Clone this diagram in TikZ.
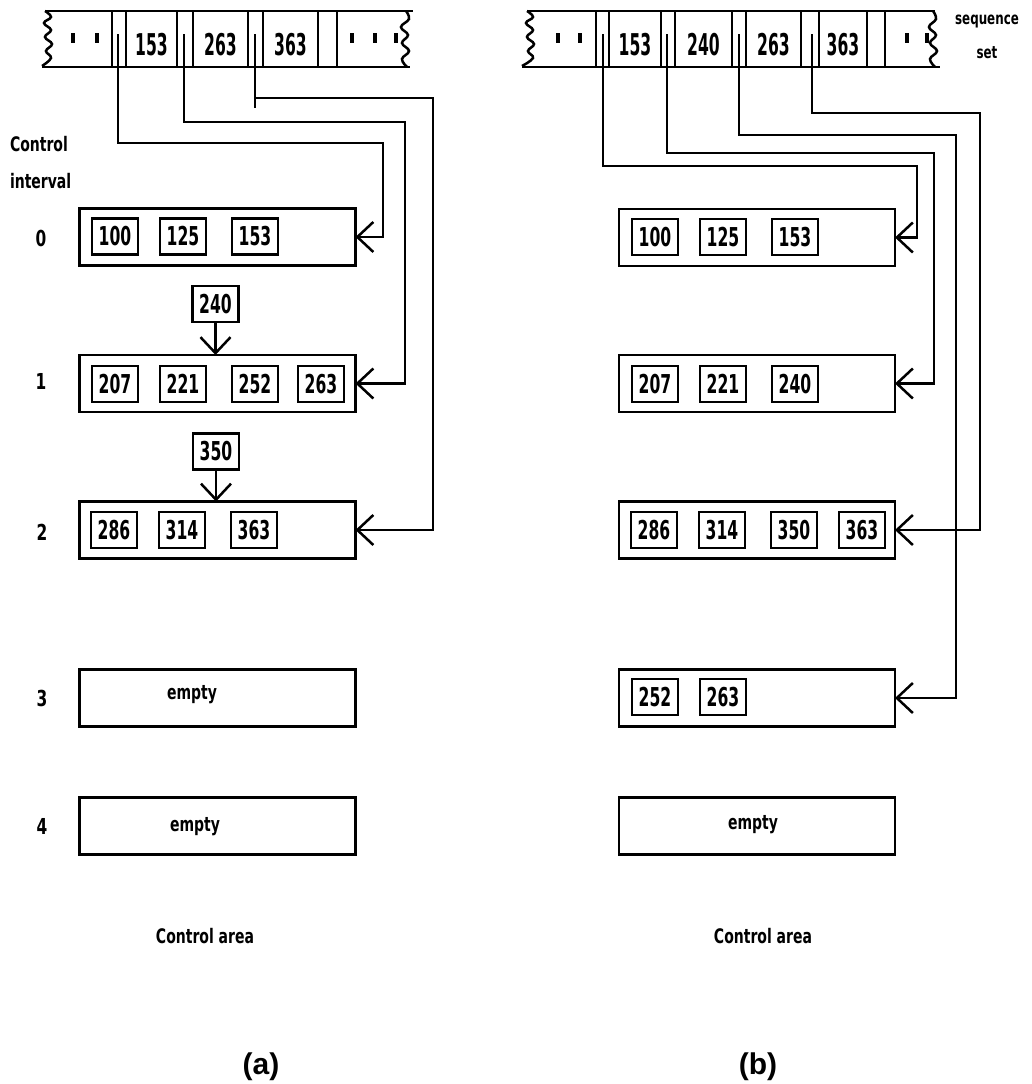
\documentclass[tikz,border=0pt]{standalone}
\usepackage{fontspec}
\setmainfont{DejaVu Sans}
\newfontfamily\txtfont[FakeStretch=0.7, UprightFont={* Bold}]{DejaVu Sans}
\newfontfamily\digfont[FakeStretch=0.6, UprightFont={* Bold}]{DejaVu Sans}
\newfontfamily\seqfont[FakeStretch=0.52, UprightFont={* Bold}]{DejaVu Sans}
\newfontfamily\capfont{Liberation Sans}
\usetikzlibrary{arrows.meta}
\begin{document}
\begin{tikzpicture}[x=1pt,y=-1pt,
  line width=2.5pt,
  every node/.style={inner sep=0pt, outer sep=0pt},
  cibox/.style={draw, minimum width=276pt, minimum height=57pt},
  keybox/.style={draw, line width=2.2pt, minimum width=46pt, minimum height=36pt, font=\digfont\fontsize{26}{26}\selectfont},
  seqnum/.style={font=\seqfont\fontsize{30}{30}\selectfont},
  lbl/.style={font=\txtfont\fontsize{20}{20}\selectfont},
  cinum/.style={font=\txtfont\fontsize{22}{22}\selectfont},
  ptr/.style={-{Straight Barb[length=16pt,width=30pt]}},
  tickmark/.style={line width=3.5pt},
]
\useasboundingbox (0,0) rectangle (1032,1084);

% ---------------- (a) sequence set ----------------
\draw (45,11) -- (413,11);
\draw (42,67) -- (410,67);
\draw plot[smooth, tension=0.7] coordinates {(45,11) (51,17) (44,23) (51,30) (45,37) (52,44) (46,51) (51,58) (42,66)};
\draw plot[smooth, tension=0.7] coordinates {(406,11) (409,19) (401,27) (408,35) (402,43) (409,51) (402,59) (407,67)};
\foreach \x in {112,126,177,193,248,263,318,337} \draw (\x,11) -- (\x,67);
\foreach \x in {73,97,352,375,396} \draw[tickmark] (\x,33) -- (\x,43);
\node[seqnum] (sa153) at (151.5,45) {153};
\node[seqnum] (sa263) at (220.5,45) {263};
\node[seqnum] (sa363) at (290.5,45) {363};
\coordinate (pa1) at (118,34);
\coordinate (pa2) at (184,34);
\coordinate (pa3) at (255,34);

% ---------------- (a) labels ----------------
\node[lbl, anchor=west] (lctl) at (10,144) {Control};
\node[lbl, anchor=west] (lint) at (10,181) {interval};
\node[cinum] (n0) at (41,238) {0};
\node[cinum] (n1) at (41,381) {1};
\node[cinum] (n2) at (42,532) {2};
\node[cinum] (n3) at (42,698) {3};
\node[cinum] (n4) at (42,826) {4};

% ---------------- (a) control intervals ----------------
\node[cibox] (a0) at (217.5,237) {};
\node[cibox] (a1) at (217.5,383.5) {};
\node[cibox] (a2) at (217.5,530) {};
\node[cibox] (a3) at (217.5,698) {};
\node[cibox] (a4) at (217.5,826) {};

\node[keybox] (a0k1) at (115,236.5) {100};
\node[keybox] (a0k2) at (183,236.5) {125};
\node[keybox] (a0k3) at (255,236.5) {153};

\node[keybox] (a1k1) at (115,384) {207};
\node[keybox] (a1k2) at (183,384) {221};
\node[keybox] (a1k3) at (255,384) {252};
\node[keybox] (a1k4) at (321,384) {263};

\node[keybox] (a2k1) at (114,530) {286};
\node[keybox] (a2k2) at (182,530) {314};
\node[keybox] (a2k3) at (254,530) {363};

\node[lbl] (a3e) at (192,695) {empty};
\node[lbl] (a4e) at (195,827) {empty};

\node[keybox] (ins240) at (215.5,304) {240};
\node[keybox] (ins350) at (216,451.5) {350};
\draw[ptr] (ins240.south) -- (ins240.south |- a1.north);
\draw[ptr] (ins350.south) -- (ins350.south |- a2.north);

\draw[ptr] (pa1) |- (383,143) |- (a0.east);
\draw[ptr] (pa2) |- (405,122) |- (a1.east);
\draw[ptr] (pa3) |- (433,98) |- (a2.east);
\draw (255,98) -- (255,108);

\node[lbl] (areaa) at (205,936) {Control area};
\node[font=\capfont\bfseries\fontsize{30}{30}\selectfont] (capa) at (261,1067) {(a)};

% ---------------- (b) sequence set ----------------
\draw (527,11) -- (935,11);
\draw (522,67) -- (940,67);
\draw plot[smooth, tension=0.7] coordinates {(527,11) (533,17) (526,23) (533,30) (527,37) (534,44) (528,51) (533,58) (522,66)};
\draw plot[smooth, tension=0.7] coordinates {(933,11) (936,19) (929,27) (936,35) (930,43) (937,51) (930,59) (935,67)};
\foreach \x in {596,609,661,675,732,746,801,819,867,885} \draw (\x,11) -- (\x,67);
\foreach \x in {558,580,907,927} \draw[tickmark] (\x,33) -- (\x,43);
\node[seqnum] (sb153) at (635,45) {153};
\node[seqnum] (sb240) at (703.5,45) {240};
\node[seqnum] (sb263) at (773.5,45) {263};
\node[seqnum] (sb363) at (843,45) {363};
\coordinate (pb1) at (603,34);
\coordinate (pb2) at (667,34);
\coordinate (pb3) at (739,34);
\coordinate (pb4) at (812,34);
\node[font=\txtfont\fontsize{17}{17}\selectfont] (seqlbl) at (987,22) {sequence};
\node[font=\txtfont\fontsize{17}{17}\selectfont] (setlbl) at (987,53) {set};

% ---------------- (b) control intervals ----------------
\node[cibox] (b0) at (757,237.5) {};
\node[cibox] (b1) at (757,383.5) {};
\node[cibox] (b2) at (757,530) {};
\node[cibox] (b3) at (757,698) {};
\node[cibox] (b4) at (757,826) {};

\node[keybox] (b0k1) at (655,237) {100};
\node[keybox] (b0k2) at (723,237) {125};
\node[keybox] (b0k3) at (795,237) {153};

\node[keybox] (b1k1) at (655,384) {207};
\node[keybox] (b1k2) at (723,384) {221};
\node[keybox] (b1k3) at (795,384) {240};

\node[keybox] (b2k1) at (654,530) {286};
\node[keybox] (b2k2) at (722,530) {314};
\node[keybox] (b2k3) at (794,530) {350};
\node[keybox] (b2k4) at (862,530) {363};

\node[keybox] (b3k1) at (655,697) {252};
\node[keybox] (b3k2) at (723,697) {263};

\node[lbl] (b4e) at (753,825) {empty};

\draw[ptr] (pb1) |- (917,166) |- (b0.east);
\draw[ptr] (pb2) |- (934,153) |- (b1.east);
\draw[ptr] (pb3) |- (956,135) |- (b3.east);
\draw[ptr] (pb4) |- (980,113) |- (b2.east);

\node[lbl] (areab) at (763,936) {Control area};
\node[font=\capfont\bfseries\fontsize{30}{30}\selectfont] (capb) at (758,1067) {(b)};
\end{tikzpicture}
\end{document}
